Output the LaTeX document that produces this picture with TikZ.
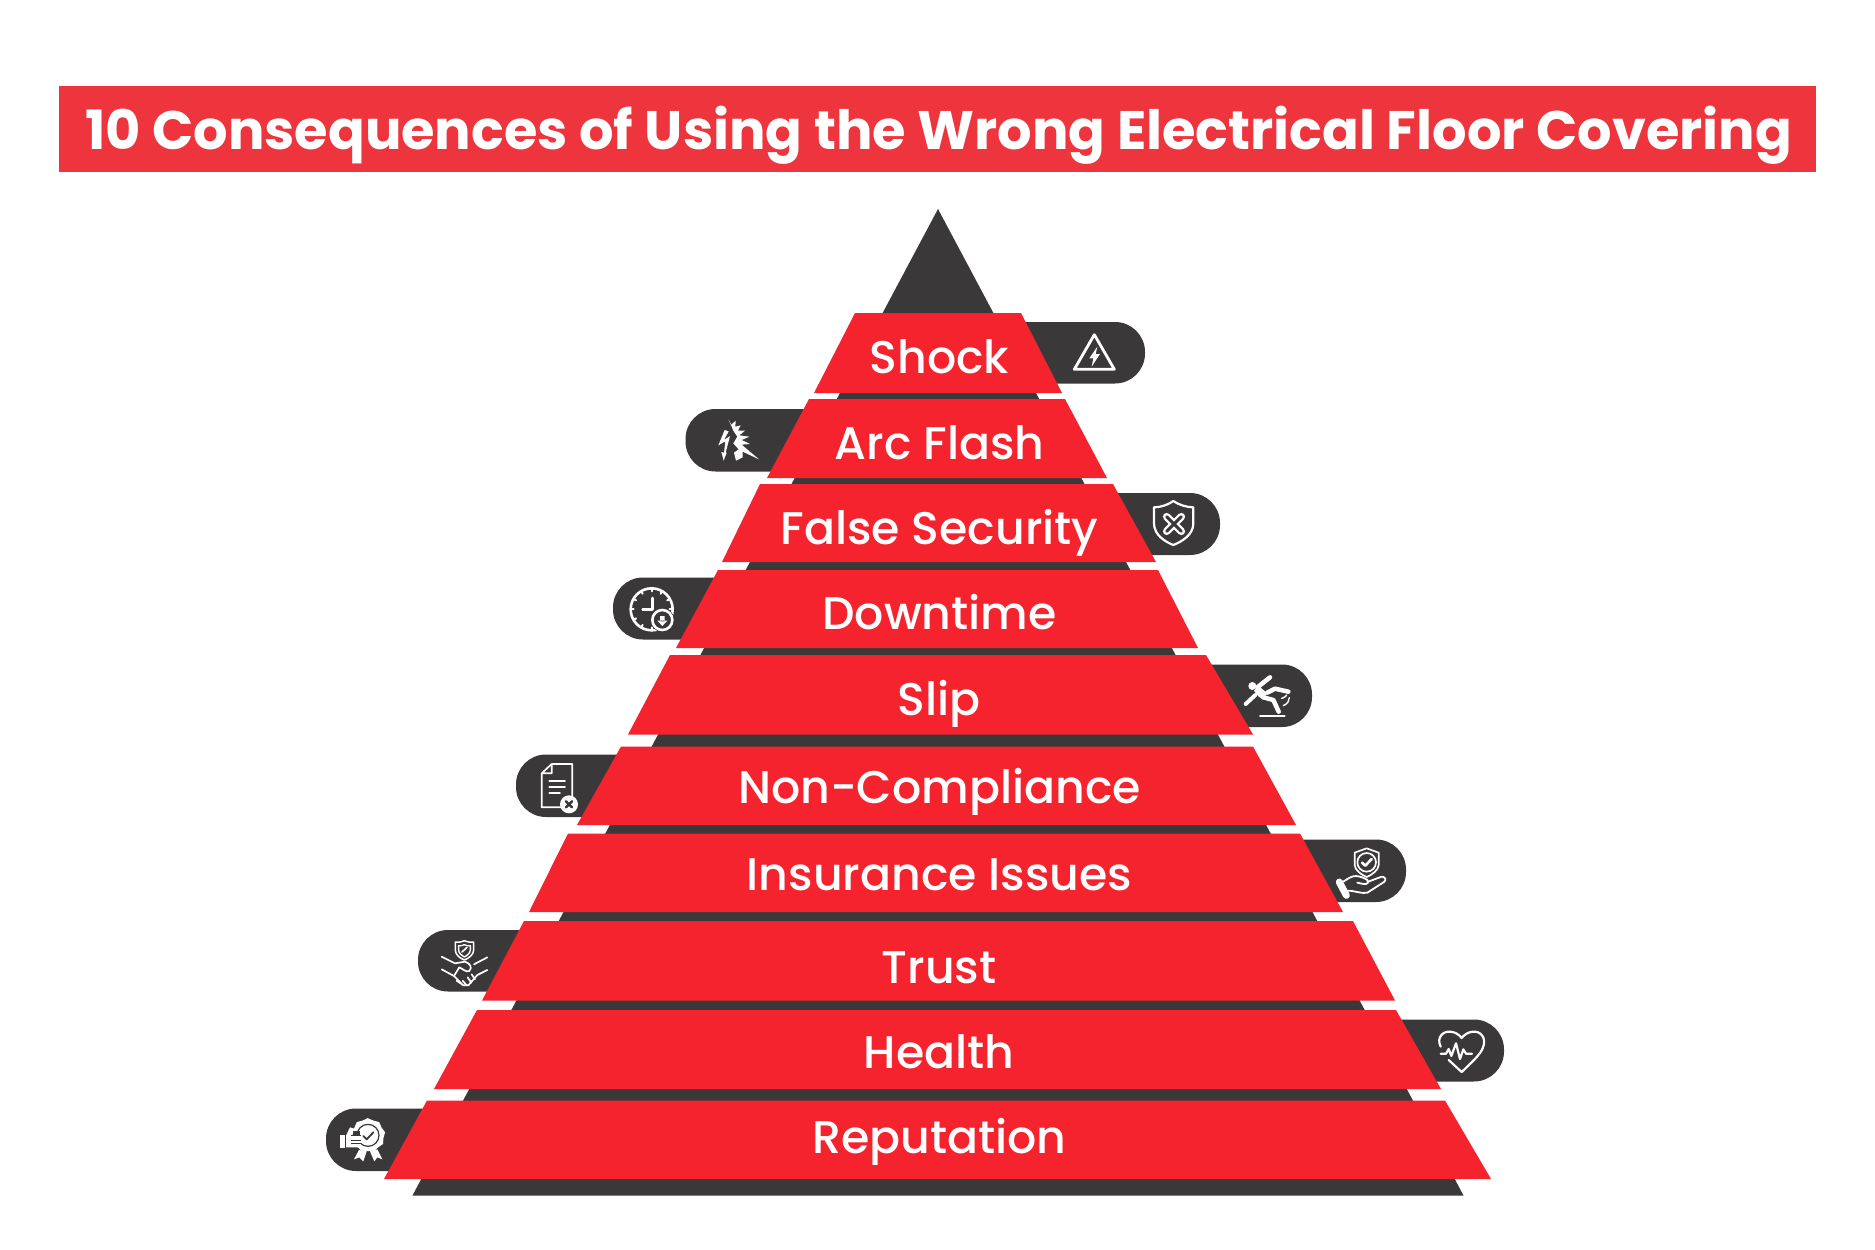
\documentclass[tikz,border=0pt]{standalone}
\usepackage{fontspec}
\setmainfont{Poppins}
\newfontfamily\popm{Poppins Medium}
\definecolor{rd}{HTML}{F4232D}
\definecolor{tr}{HTML}{EE353E}
\definecolor{dk}{HTML}{3A3839}
\tikzset{
 lab/.style={text=white,font=\popm\fontsize{45.8}{46}\selectfont,anchor=mid,inner sep=0pt},
 pillbox/.style={fill=dk,rounded corners=30pt},
 band/.style={fill=rd},
 ic/.style={draw=white,line width=2.6pt,line cap=round,line join=round},
 icf/.style={fill=white}
}
\begin{document}
\begin{tikzpicture}[x=1pt,y=-1pt]
\useasboundingbox (0,0) rectangle (1875,1250);
\fill[white] (0,0) rectangle (1875,1250);
\node[fill=tr,minimum width=1757pt,minimum height=85.5pt,inner sep=0pt,anchor=north west] (title) at (59,86) {};
\node[text=white,font=\bfseries\fontsize{54.2}{54}\selectfont,inner sep=0pt,anchor=mid] (titletext) at (938.5,147) {10 Consequences of Using the Wrong Electrical Floor Covering};
\fill[dk] (938,209) -- (1463.5,1195.5) -- (412.5,1195.5) -- cycle;
% pills
\fill[pillbox] (900,322) rectangle (1145,383.5);
\fill[pillbox] (685.5,409) rectangle (900,471.5);
\fill[pillbox] (900,493) rectangle (1220,555);
\fill[pillbox] (613,577.5) rectangle (900,639.5);
\fill[pillbox] (900,664.5) rectangle (1312,727);
\fill[pillbox] (516,754.5) rectangle (900,817);
\fill[pillbox] (900,839.5) rectangle (1406,902);
\fill[pillbox] (418,930) rectangle (900,991.5);
\fill[pillbox] (900,1019.5) rectangle (1504,1081.5);
\fill[pillbox] (326,1108.5) rectangle (900,1171);
% bands
\fill[band] (855,313) -- (1021,313) -- (1062,393) -- (814,393) -- cycle;
\fill[band] (809,399) -- (1065,399) -- (1107,478) -- (767,478) -- cycle;
\fill[band] (760,484) -- (1113,484) -- (1156,562) -- (722,562) -- cycle;
\fill[band] (718,570) -- (1158,570) -- (1198,648) -- (676,648) -- cycle;
\fill[band] (670,655) -- (1206,655) -- (1253,734.5) -- (628,734.5) -- cycle;
\fill[band] (621,746.5) -- (1253,746.5) -- (1296,825) -- (577,825) -- cycle;
\fill[band] (568,833.5) -- (1300,833.5) -- (1343,912) -- (529,912) -- cycle;
\fill[band] (524,921) -- (1353,921) -- (1395,1000.5) -- (482,1000.5) -- cycle;
\fill[band] (477,1010) -- (1396,1010) -- (1441,1089) -- (434,1089) -- cycle;
\fill[band] (427,1100.5) -- (1445,1100.5) -- (1491,1179) -- (384,1179) -- cycle;
% labels
\node[lab] (l1) at (939.5,370.5) {Shock};
\node[lab] (l2) at (939.5,456.5) {Arc Flash};
\node[lab] (l3) at (939.5,541.5) {False Security};
\node[lab] (l4) at (939.5,627) {Downtime};
\node[lab] (l5) at (939,713) {Slip};
\node[lab] (l6) at (939.5,801) {Non-Compliance};
\node[lab] (l7) at (939.5,887.5) {Insurance Issues};
\node[lab] (l8) at (939,981) {Trust};
\node[lab] (l9) at (939,1066) {Health};
\node[lab] (l10) at (939.5,1151) {Reputation};
% warning
\begin{scope}[shift={(660,190)},scale=1/3]
\draw[ic,line width=2.8pt] (1303,434) -- (1363,538) -- (1243,538) -- cycle;
\fill[icf] (1312,470) -- (1288,505) -- (1300,505) -- (1295,530) -- (1320,492) -- (1307,492) -- cycle;
\end{scope}
% arc flash
\begin{scope}[shift={(700,410)},scale=1/3]
\fill[icf] (85,28) -- (94,44) -- (107,32) -- (106,50) -- (122,46) -- (114,62) -- (135,62) -- (118,76) -- (148,80) -- (125,90) -- (150,102) -- (125,104) -- (177,148) -- (128,125) -- (128,142) -- (108,152) -- (102,128) -- (116,118) -- (100,100) -- (112,80) -- (100,62) -- (95,50) -- cycle;
\fill[icf] (74,60) -- (55,106) -- (76,94) -- (72,128) -- (64,126) -- (71,152) -- (80,128) -- (77,128) -- (90,78) -- (72,90) -- (86,64) -- cycle;
\end{scope}
% shield x
\begin{scope}[shift={(1130,490)},scale=1/3]
\draw[ic,line width=2.2pt] (130,33) .. controls (145,44) and (170,52) .. (190,52) -- (190,100) .. controls (190,135) and (155,155) .. (130,165) .. controls (105,155) and (72,135) .. (72,100) -- (72,52) .. controls (92,52) and (115,44) .. (130,33) -- cycle;
\draw[white,line width=7.5pt,line cap=round] (110,80) -- (154,124) (154,80) -- (110,124);
\draw[dk,line width=3pt,line cap=round] (110,80) -- (154,124) (154,80) -- (110,124);
\end{scope}
% clock
\begin{scope}[shift={(590,480)},scale=1/3]
\draw[ic] (185,388) circle (63);
\foreach \a in {0,30,...,330}{\draw[ic,line width=2pt] (185,388) ++(\a:63) -- ++(\a+180:9);}
\draw[ic] (187,354) -- (187,388) -- (158,388);
\fill[dk] (217,420) circle (36);
\draw[ic] (217,420) circle (30);
\fill[icf] (210,408) rectangle (224,424) (202,422) -- (232,422) -- (217,438) -- cycle;
\end{scope}
% slip
\begin{scope}[shift={(1180,640)},scale=1/3]
\fill[icf] (217,138) circle (12);
\draw[white,line width=4.5pt,line cap=round] (232,142) -- (270,112);
\fill[icf] (222,152) -- (236,138) -- (262,160) -- (248,178) -- (236,170) -- cycle;
\draw[white,line width=4pt,line cap=round] (226,165) -- (197,192);
\draw[white,line width=4.5pt,line cap=round,line join=round] (262,158) -- (285,146) -- (325,155);
\draw[white,line width=4.5pt,line cap=round,line join=round] (250,172) -- (280,180) -- (296,215);
\draw[ic,line width=1.4pt] (305,175) .. controls (315,172) and (318,168) .. (320,165) (310,197) .. controls (322,192) and (328,183) .. (328,173);
\draw[ic,line width=1.8pt] (240,228) -- (314,228);
\end{scope}
% document
\begin{scope}[shift={(500,740)},scale=1/3]
\draw[ic,line width=1.7pt] (155,72) -- (217,72) -- (217,170) (185,202) -- (125,202) -- (125,100) -- (155,72) -- (155,100) -- (125,100);
\draw[ic,line width=1.9pt] (148,122) -- (195,122) (148,141) -- (195,141) (148,160) -- (180,160);
\fill[icf] (207,193) circle (27);
\draw[dk,line width=2.4pt,line cap=round] (198,184) -- (216,202) (216,184) -- (198,202);
\end{scope}
% hand shield
\begin{scope}[shift={(1280,820)},scale=1/3]
\draw[ic,line width=1.7pt] (260,85) -- (296,98) -- (296,135) .. controls (296,150) and (275,165) .. (260,171) .. controls (245,165) and (224,150) .. (224,135) -- (224,98) -- cycle;
\draw[ic,line width=1.7pt] (260,127) circle (28);
\draw[ic,line width=2.6pt] (246,128) -- (256,137) -- (275,117);
\draw[ic,line width=1.8pt] (190,185) .. controls (205,175) and (215,168) .. (228,168) .. controls (245,170) and (255,175) .. (262,180) .. controls (268,187) and (262,194) .. (250,192) -- (232,188);
\draw[ic,line width=1.8pt] (262,186) -- (305,170) .. controls (316,170) and (320,180) .. (312,186) -- (262,218) .. controls (250,222) and (220,212) .. (205,212);
\draw[white,line width=7pt,line cap=round] (178,186) -- (199,226);
\end{scope}
% handshake
\begin{scope}[shift={(400,910)},scale=1/3]
\draw[ic,line width=1.5pt] (193,92) .. controls (205,97) and (212,97) .. (221,96) -- (221,120) .. controls (221,135) and (205,145) .. (193,150) .. controls (181,145) and (166,135) .. (166,120) -- (166,96) .. controls (175,97) and (182,97) .. (193,92) -- cycle;
\draw[ic,line width=1.4pt] (193,104) .. controls (200,108) and (205,108) .. (211,107) -- (211,120) .. controls (211,130) and (200,137) .. (193,141) .. controls (186,137) and (176,130) .. (176,120) -- (176,107) .. controls (181,108) and (186,108) .. (193,104) -- cycle;
\draw[ic,line width=1.6pt] (186,126) -- (201,112);
\draw[ic,line width=1.7pt] (125,140) -- (165,160) -- (195,155) .. controls (210,160) and (218,172) .. (208,183) .. controls (198,188) and (188,176) .. (178,172) -- (162,198) (222,163) -- (262,142);
\draw[ic,line width=1.7pt] (125,178) -- (162,198) -- (190,226) (232,195) -- (262,180) (170,212) -- (190,226) -- (205,226) -- (232,195);
\draw[ic,line width=1.7pt] (188,212) -- (200,226) (203,202) -- (214,218) (215,193) -- (225,208);
\end{scope}
% heart
\begin{scope}[shift={(1380,1000)},scale=1/3]
\draw[ic,line width=2.2pt] (182,140) .. controls (168,112) and (190,92) .. (212,95) .. controls (228,97) and (238,105) .. (245,114) .. controls (252,105) and (262,97) .. (278,95) .. controls (300,92) and (322,112) .. (308,145) .. controls (300,165) and (270,192) .. (245,216) -- (206,180);
\draw[ic,line width=2.2pt] (182,161) -- (198,161) -- (206,147) -- (214,168) -- (228,130) -- (240,177) -- (250,148) -- (258,161) -- (276,161);
\end{scope}
% badge
\begin{scope}[shift={(310,1090)},scale=1/3]
\fill[icf] (172,84) \foreach \a in {20,40,...,360}{ -- ({174+(mod(\a,40)==0 ? 52 : 47)*sin(\a)},{136-(mod(\a,40)==0 ? 52 : 47)*cos(\a)})} -- cycle;
\draw[dk,line width=1.2pt] (174,136) circle (33);
\draw[dk,line width=1.8pt,line cap=round,line join=round] (160,138) -- (170,148) -- (190,127);
\fill[icf] (147,180) -- (132,208) -- (148,202) -- (160,214) -- (170,184) -- cycle;
\fill[icf] (180,184) -- (193,214) -- (202,202) -- (217,208) -- (202,178) -- cycle;
\fill[icf] (89,135) rectangle (105,173);
\fill[dk] (120,122) rectangle (150,172);
\fill[icf] (108,137) -- (120,112) -- (130,115) -- (128,135) -- (150,135) -- (154,150) -- (150,172) -- (108,172) -- cycle;
\draw[dk,line width=1pt] (124,137) -- (152,137) (124,150) -- (152,150) (124,161) -- (152,161);
\end{scope}
\end{tikzpicture}
\end{document}
